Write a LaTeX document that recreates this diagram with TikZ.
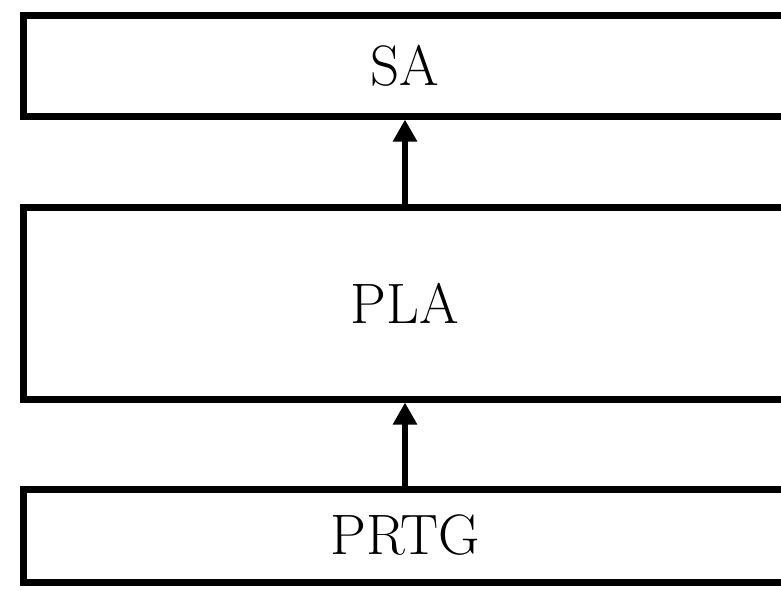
\documentclass[tikz,border=0pt]{standalone}
\usetikzlibrary{arrows.meta}
\begin{document}
\begin{tikzpicture}[x=1pt,y=1pt,
  layer/.style={draw, line width=7pt, minimum width=764pt, inner sep=0pt,
    font=\fontsize{57}{60}\selectfont},
  flow/.style={line width=6pt, -{Triangle[width=23pt,length=22pt]}}]
  \useasboundingbox (0,0) rectangle (781,-590);
  \node[layer, minimum height=101pt] (sa)   at (405,-65.5)  {SA};
  \node[layer, minimum height=192pt] (pla)  at (405,-303)   {PLA};
  \node[layer, minimum height=93pt]  (prtg) at (405,-535.5) {PRTG};
  \draw[flow] (prtg.north) -- (pla.south);
  \draw[flow] (pla.north) -- (sa.south);
\end{tikzpicture}
\end{document}
